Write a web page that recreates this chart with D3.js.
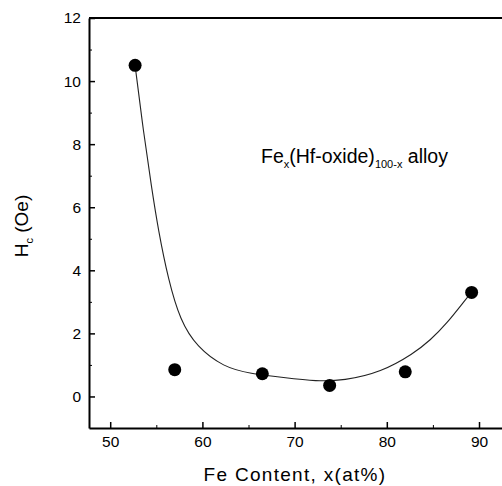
<!DOCTYPE html>
<html>
<head>
<meta charset="utf-8">
<script src="https://cdn.jsdelivr.net/npm/d3@7"></script>
<style>
  body { margin: 0; background: #fff; }
  svg { display: block; font-family: "Liberation Sans", Arial, sans-serif; }
  .axis path, .axis line { stroke: #000; }
</style>
</head>
<body>
<svg id="chart"></svg>
<script>
// measured points
var feContent = [52.7, 57.0, 66.5, 73.8, 82.0, 89.2];
var coercivity = [10.5, 0.85, 0.72, 0.35, 0.78, 3.3];

// fitted curve
var fitX = [52.7, 53.6, 54.5, 55.2, 56.3, 57.6, 59.4, 62.3, 65.2, 68.8, 72.4, 75.3, 79.4, 82.9, 84.7, 86.5, 88.5, 89.2];
var fitY = [10.5, 8.4, 6.6, 5.3, 3.7, 2.4, 1.57, 0.93, 0.72, 0.60, 0.48, 0.50, 0.77, 1.36, 1.78, 2.31, 3.06, 3.3];

var xTicks = [50, 60, 70, 80, 90];
var xMinor = [55, 65, 75, 85];
var yTicks = [0, 2, 4, 6, 8, 10, 12];
var yMinor = [1, 3, 5, 7, 9, 11];

var width = 502;
var height = 486;

var svg = d3.select("#chart")
    .attr("width", width)
    .attr("height", height);

// plot box runs past the right edge of the picture
var plotLeft = 89, plotTop = 18, plotBottom = 428;
var x = d3.scaleLinear().domain([47.7, 93.5]).range([plotLeft, plotLeft + 45.8 * 9.22]);
var y = d3.scaleLinear().domain([-1, 12]).range([plotBottom, plotTop]);

function styleLabels(g) {
    g.selectAll("text")
        .style("font-size", "15.5px")
        .style("font-family", "'Liberation Sans', Arial, sans-serif")
        .attr("fill", "#000");
}

// minor ticks
svg.append("g")
    .attr("class", "axis")
    .attr("transform", "translate(0," + plotBottom + ")")
    .call(d3.axisBottom(x).tickValues(xMinor).tickSize(-3).tickFormat(""))
    .call(function (g) { g.select(".domain").remove(); });
svg.append("g")
    .attr("class", "axis")
    .attr("transform", "translate(" + plotLeft + ",0)")
    .call(d3.axisLeft(y).tickValues(yMinor).tickSize(-3).tickFormat(""))
    .call(function (g) { g.select(".domain").remove(); });

// major axes
svg.append("g")
    .attr("class", "axis")
    .attr("transform", "translate(0," + plotBottom + ")")
    .call(d3.axisBottom(x).tickValues(xTicks).tickSizeInner(-6).tickSizeOuter(0).tickPadding(8))
    .call(function (g) {
        g.select(".domain").attr("stroke-width", 2);
        g.selectAll(".tick line").attr("stroke-width", 1.5);
    })
    .call(styleLabels);
svg.append("g")
    .attr("class", "axis")
    .attr("transform", "translate(" + plotLeft + ",0)")
    .call(d3.axisLeft(y).tickValues(yTicks).tickSizeInner(-6).tickSizeOuter(0).tickPadding(8))
    .call(function (g) {
        g.select(".domain").attr("stroke-width", 2);
        g.selectAll(".tick line").attr("stroke-width", 1.5);
    })
    .call(styleLabels);

// top frame line
svg.append("line")
    .attr("x1", plotLeft).attr("x2", x(93.5))
    .attr("y1", y(12)).attr("y2", y(12))
    .attr("stroke", "#000")
    .attr("stroke-width", 2);

// fit curve
var fitData = fitX.map(function (d, i) { return [d, fitY[i]]; });
var line = d3.line()
    .x(function (d) { return x(d[0]); })
    .y(function (d) { return y(d[1]); })
    .curve(d3.curveBasis);

svg.append("path")
    .datum(fitData)
    .attr("d", line)
    .attr("fill", "none")
    .attr("stroke", "#222")
    .attr("stroke-width", 1.1);

// points
svg.selectAll("circle")
    .data(feContent)
    .enter()
    .append("circle")
    .attr("cx", function (d) { return x(d); })
    .attr("cy", function (d, i) { return y(coercivity[i]); })
    .attr("r", 6.5)
    .attr("fill", "#000");

// axis titles
svg.append("text")
    .attr("x", 295)
    .attr("y", 481)
    .attr("text-anchor", "middle")
    .style("font-size", "19px")
    .style("letter-spacing", "1.3px")
    .text("Fe Content, x(at%)");

var yTitle = svg.append("text")
    .attr("transform", "translate(28,226) rotate(-90)")
    .attr("text-anchor", "middle")
    .style("font-size", "19px");
yTitle.append("tspan").text("H");
yTitle.append("tspan").attr("dy", 5).style("font-size", "11px").text("c");
yTitle.append("tspan").attr("dy", -5).text(" (Oe)");

// annotation
var note = svg.append("text")
    .attr("x", 261)
    .attr("y", 163)
    .style("font-size", "19.5px");
note.append("tspan").text("Fe");
note.append("tspan").attr("dy", 5).style("font-size", "11px").text("x");
note.append("tspan").attr("dy", -5).text("(Hf-oxide)");
note.append("tspan").attr("dy", 5).style("font-size", "11px").text("100-x");
note.append("tspan").attr("dy", -5).text(" alloy");
</script>
</body>
</html>
